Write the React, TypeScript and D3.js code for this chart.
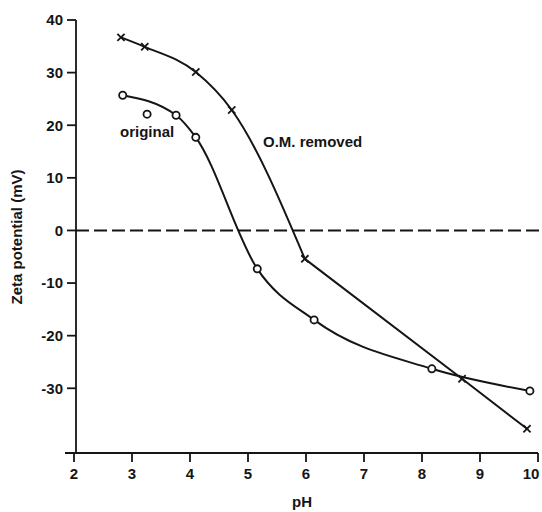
import React from "react";
import * as d3 from "d3";

const xTicks = [2, 3, 4, 5, 6, 7, 8, 9, 10];
const yTicks = [40, 30, 20, 10, 0, -10, -20, -30];

// "original" series (circles on curve)
const origPH = [2.84, 3.76, 4.1, 5.16, 6.14, 8.17, 9.86];
const origZeta = [25.7, 21.9, 17.7, -7.3, -17.0, -26.3, -30.5];
// off-curve "original" measurement
const origExtraPH = [3.26];
const origExtraZeta = [22.1];

// "O.M. removed" series (crosses)
const omPH = [2.81, 3.22, 4.1, 4.72, 5.98, 8.69, 9.81];
const omZeta = [36.7, 34.9, 30.1, 22.9, -5.4, -28.2, -37.7];
// the O.M. curve is smooth up to this point index, straight after it
const omSmoothEnd = 4;

const labelOriginal = "original";
const labelOM = "O.M. removed";
const xTitle = "pH";
const yTitle = "Zeta potential (mV)";

const W = 542;
const H = 512;
const FONT = "'Liberation Sans', Arial, Helvetica, sans-serif";

export default function App() {
  const x = d3.scaleLinear().domain([2, 10]).range([74, 538]);
  const y = d3.scaleLinear().domain([-42.3, 40]).range([453, 20]);
  const axisX = 76;
  const axisY = y(-42.3);

  const smooth = d3
    .line<[number, number]>()
    .x((d) => x(d[0]))
    .y((d) => y(d[1]))
    .curve(d3.curveMonotoneX);
  const straight = d3
    .line<[number, number]>()
    .x((d) => x(d[0]))
    .y((d) => y(d[1]));

  const orig: [number, number][] = origPH.map((p, i) => [p, origZeta[i]]);
  const om: [number, number][] = omPH.map((p, i) => [p, omZeta[i]]);
  const origExtra: [number, number][] = origExtraPH.map((p, i) => [p, origExtraZeta[i]]);

  const ink = "#151515";
  const a = 3.6;

  return (
    <svg
      width={W}
      height={H}
      style={{ position: "absolute", left: 0, top: 0, background: "#fff" }}
      fontFamily={FONT}
      fontWeight="bold"
    >
      <rect x={0} y={0} width={W} height={H} fill="#fff" />
      {/* zero line */}
      <line
        x1={axisX}
        x2={W}
        y1={y(0)}
        y2={y(0)}
        stroke={ink}
        strokeWidth={2}
        strokeDasharray="13,5"
      />
      {/* y axis */}
      <line x1={axisX} x2={axisX} y1={y(40)} y2={axisY} stroke={ink} strokeWidth={1.8} />
      {yTicks.map((t) => (
        <g key={t}>
          <line x1={axisX - 9} x2={axisX} y1={y(t)} y2={y(t)} stroke={ink} strokeWidth={1.8} />
          <text
            x={63}
            y={y(t)}
            dy="0.36em"
            textAnchor="end"
            fontSize={15}
            fill={ink}
          >
            {t}
          </text>
        </g>
      ))}
      {/* x axis */}
      <line x1={65} x2={x(10)} y1={axisY} y2={axisY} stroke={ink} strokeWidth={1.8} />
      {xTicks.map((t) => (
        <g key={t}>
          <line x1={x(t)} x2={x(t)} y1={axisY} y2={axisY + 9} stroke={ink} strokeWidth={1.8} />
          <text
            x={Math.min(x(t), W - 11)}
            y={479}
            textAnchor="middle"
            fontSize={15}
            fill={ink}
          >
            {t}
          </text>
        </g>
      ))}
      <text x={302} y={507} textAnchor="middle" fontSize={15} fill={ink}>
        {xTitle}
      </text>
      <text
        transform={`translate(22,${237}) rotate(-90)`}
        textAnchor="middle"
        fontSize={15}
        fill={ink}
      >
        {yTitle}
      </text>

      {/* curves */}
      <path d={smooth(orig) || ""} fill="none" stroke={ink} strokeWidth={2} />
      <path d={smooth(om.slice(0, omSmoothEnd + 1)) || ""} fill="none" stroke={ink} strokeWidth={2} />
      <path d={straight(om.slice(omSmoothEnd)) || ""} fill="none" stroke={ink} strokeWidth={2} />

      {/* circles */}
      {[...orig, ...origExtra].map((d, i) => (
        <circle
          key={"c" + i}
          cx={x(d[0])}
          cy={y(d[1])}
          r={3.6}
          fill="#fff"
          stroke={ink}
          strokeWidth={1.8}
        />
      ))}
      {/* crosses */}
      {om.map((d, i) => (
        <g key={"x" + i} transform={`translate(${x(d[0])},${y(d[1])})`}>
          <line x1={-a} y1={-a} x2={a} y2={a} stroke={ink} strokeWidth={1.8} />
          <line x1={-a} y1={a} x2={a} y2={-a} stroke={ink} strokeWidth={1.8} />
        </g>
      ))}

      <text x={120} y={137} fontSize={15} fill={ink}>
        {labelOriginal}
      </text>
      <text x={263} y={147} fontSize={15} fill={ink}>
        {labelOM}
      </text>
    </svg>
  );
}
